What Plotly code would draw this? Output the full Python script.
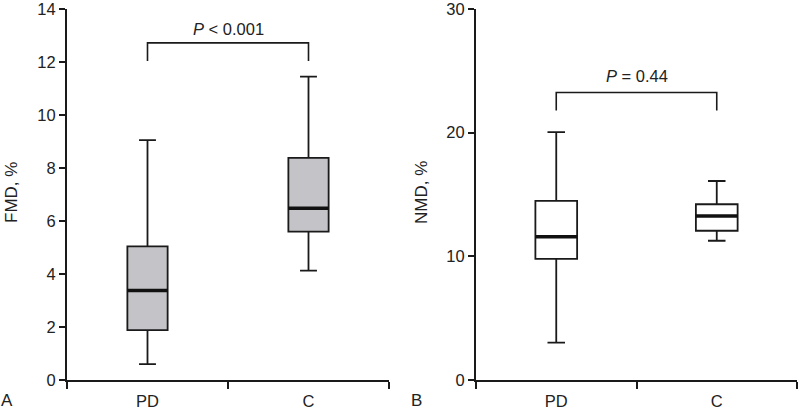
import plotly.graph_objects as go

categories = ["PD", "C"]

# Panel A: FMD, %
fmd_lower = [0.6, 4.13]
fmd_q1 = [1.88, 5.6]
fmd_median = [3.38, 6.48]
fmd_q3 = [5.04, 8.38]
fmd_upper = [9.05, 11.45]

# Panel B: NMD, %
nmd_lower = [3.03, 11.26]
nmd_q1 = [9.79, 12.07]
nmd_median = [11.58, 13.27]
nmd_q3 = [14.48, 14.21]
nmd_upper = [20.05, 16.09]

fmd_ticks = [0, 2, 4, 6, 8, 10, 12, 14]
nmd_ticks = [0, 10, 20, 30]

# significance brackets: (bar level, leg bottom, text level, text)
fmd_bracket = [12.72, 12.04, 13.25, "<i>P</i> &lt; 0.001"]
nmd_bracket = [23.25, 21.8, 24.55, "<i>P</i> = 0.44"]

FONT = "Liberation Sans, Arial, sans-serif"
TXT = "#222222"
BOXW = 0.25

W, H = 800, 412
ML, MR, MT, MB = 0, 0, 9, 32

fig = go.Figure()

fig.add_trace(go.Box(
    x=categories, q1=fmd_q1, median=fmd_median, q3=fmd_q3,
    lowerfence=fmd_lower, upperfence=fmd_upper,
    fillcolor="#c4c4c8", line=dict(color="#1a1a1a", width=1.8),
    width=BOXW, whiskerwidth=0.42, boxpoints=False,
    xaxis="x", yaxis="y", showlegend=False, hoverinfo="skip"))

fig.add_trace(go.Box(
    x=categories, q1=nmd_q1, median=nmd_median, q3=nmd_q3,
    lowerfence=nmd_lower, upperfence=nmd_upper,
    fillcolor="white", line=dict(color="#1a1a1a", width=1.8),
    width=0.26, whiskerwidth=0.42, boxpoints=False,
    xaxis="x2", yaxis="y2", showlegend=False, hoverinfo="skip"))

shapes = []
for i, m in enumerate(fmd_median):
    shapes.append(dict(type="line", xref="x", yref="y", x0=i - BOXW / 2, x1=i + BOXW / 2,
                       y0=m, y1=m, line=dict(color="#111111", width=3.5)))
for i, m in enumerate(nmd_median):
    shapes.append(dict(type="line", xref="x2", yref="y2", x0=i - 0.13, x1=i + 0.13,
                       y0=m, y1=m, line=dict(color="#111111", width=3.5)))

annotations = []
for xr, yr, br in [("x", "y", fmd_bracket), ("x2", "y2", nmd_bracket)]:
    top, bottom, ty, label = br
    shapes.append(dict(type="path", xref=xr, yref=yr,
                       path=f"M 0 {bottom} L 0 {top} L 1 {top} L 1 {bottom}",
                       line=dict(color="#1a1a1a", width=1.6)))
    annotations.append(dict(x=0.5, y=ty, xref=xr, yref=yr, text=label, showarrow=False,
                            font=dict(family=FONT, size=16.5, color=TXT)))

side_labels = [
    (11, 193, "FMD, %", -90),
    (421, 193, "NMD, %", -90),
    (7, 400, "A", 0),
    (416, 400, "B", 0),
]
for px, py, text, ang in side_labels:
    annotations.append(dict(
        x=(px - ML) / (W - ML - MR), y=(H - MB - py) / (H - MT - MB),
        xref="paper", yref="paper", text=text, textangle=ang, showarrow=False,
        xanchor="center", yanchor="middle",
        font=dict(family=FONT, size=17, color=TXT)))

axis_common = dict(showline=True, linecolor="#1a1a1a", linewidth=2, ticks="outside",
                   tickcolor="#1a1a1a", tickwidth=1.8, showgrid=False, zeroline=False,
                   tickfont=dict(family=FONT, size=16.5, color=TXT), automargin=False,
                   ticklabeloverflow="allow")

fig.update_layout(
    width=W, height=H,
    margin=dict(l=ML, r=MR, t=MT, b=MB),
    paper_bgcolor="white", plot_bgcolor="white",
    shapes=shapes, annotations=annotations,
    xaxis=dict(domain=[67 / W, 389 / W], type="category", categoryorder="array",
               categoryarray=categories, tickson="boundaries", ticklen=7,
               ticklabelstandoff=5,
               range=[-0.5, 1.5], anchor="y", **axis_common),
    yaxis=dict(domain=[0, 1], range=[0, 14], tickvals=fmd_ticks, ticklen=6, anchor="x",
               **axis_common),
    xaxis2=dict(domain=[476 / W, 797 / W], type="category", categoryorder="array",
                categoryarray=categories, tickson="boundaries", ticklen=7,
                ticklabelstandoff=5,
                range=[-0.5, 1.5], anchor="y2", **axis_common),
    yaxis2=dict(domain=[0, 1], range=[0, 30], tickvals=nmd_ticks, ticklen=6, anchor="x2",
                **axis_common),
)

fig.write_html("out.html", post_script="document.body.style.margin='0';",
               config={"displayModeBar": False})
